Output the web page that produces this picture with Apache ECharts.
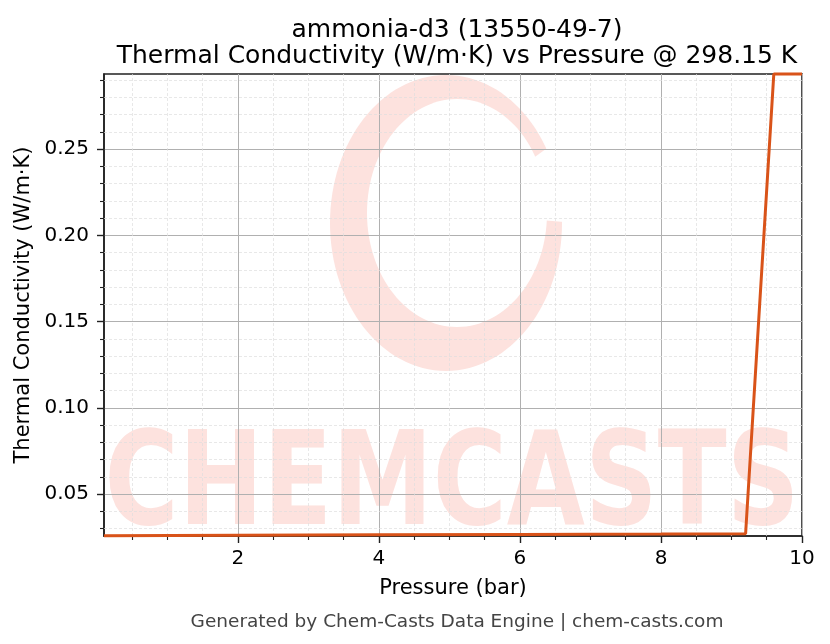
<!DOCTYPE html>
<html>
<head>
<meta charset="utf-8">
<script src="https://cdn.jsdelivr.net/npm/echarts@6/dist/echarts.min.js"></script>
<style>
  html, body { margin: 0; padding: 0; background: #fff; }
  #chart { width: 830px; height: 644px; }
</style>
</head>
<body>
<div id="chart"></div>
<script>
// thermal conductivity of ammonia-d3 vs pressure
const pressure = [0.1, 2, 4, 6, 8, 9.2, 9.6, 10];
const conductivity = [0.0258, 0.0261, 0.0264, 0.0266, 0.0268, 0.0270, 0.2935, 0.2935];

const xRange = [0.1, 10];
const yRange = [0.0257, 0.2935];
const xMajor = [2, 4, 6, 8, 10];
const yMajor = [0.05, 0.10, 0.15, 0.20, 0.25];
const xMinor = [0.5, 1, 1.5, 2.5, 3, 3.5, 4.5, 5, 5.5, 6.5, 7, 7.5, 8.5, 9, 9.5];
const yMinor = [0.03, 0.04, 0.06, 0.07, 0.08, 0.09, 0.11, 0.12, 0.13, 0.14,
                0.16, 0.17, 0.18, 0.19, 0.21, 0.22, 0.23, 0.24, 0.26, 0.27, 0.28, 0.29];

const FONT = 'DejaVu Sans';
const wmColor = '#fde2de';

var chart = echarts.init(document.getElementById('chart'), null, { renderer: 'canvas' });

var minorLines = [];
xMinor.forEach(function (v) { minorLines.push({ xAxis: v }); });
yMinor.forEach(function (v) { minorLines.push({ yAxis: v }); });

chart.setOption({
  backgroundColor: '#fff',
  animation: false,
  title: [{
    text: 'ammonia-d3 (13550-49-7)\nThermal Conductivity (W/m·K) vs Pressure @ 298.15 K',
    left: 452,
    top: 12,
    textAlign: 'center',
    textStyle: { fontFamily: FONT, fontSize: 25, fontWeight: 'normal', color: '#000', lineHeight: 26 }
  }, {
    text: 'Generated by Chem-Casts Data Engine | chem-casts.com',
    left: 452,
    top: 608,
    textAlign: 'center',
    textStyle: { fontFamily: FONT, fontSize: 18.5, fontWeight: 'normal', color: '#444' }
  }],
  graphic: [
    // watermark logo: ring
    { type: 'ellipse', z: -5, shape: { cx: 446, cy: 223, rx: 116, ry: 148 }, style: { fill: wmColor } },
    { type: 'ellipse', z: -4, shape: { cx: 457, cy: 213, rx: 90, ry: 114 }, style: { fill: '#fff' } },
    { type: 'polygon', z: -4, shape: { points: [[457, 213], [600, 110], [600, 225]] }, style: { fill: '#fff' } },
    // watermark text
    {
      type: 'text', z: -5, x: 452, y: 490, scaleY: 1.29,
      style: {
        text: 'CHEMCASTS', x: 0, y: 0, align: 'center', verticalAlign: 'middle',
        font: 'bold 101px "DejaVu Sans"', fill: wmColor
      }
    }
  ],
  grid: {
    left: 104, right: 28, top: 74, bottom: 108,
    show: true, borderColor: '#222', borderWidth: 1.6, backgroundColor: 'transparent'
  },
  xAxis: [{
    type: 'value',
    min: xRange[0], max: xRange[1],
    name: 'Pressure (bar)',
    nameLocation: 'middle',
    nameGap: 42,
    nameTextStyle: { fontFamily: FONT, fontSize: 21, color: '#000' },
    axisLine: { show: true, lineStyle: { color: '#222', width: 1.6 } },
    axisTick: { show: true, inside: false, length: 7, customValues: xMajor, lineStyle: { color: '#222', width: 1.4 } },
    axisLabel: { customValues: xMajor, margin: 13, fontFamily: FONT, fontSize: 20, color: '#000',
      formatter: function (v) { return String(v); } },
    splitLine: { show: true, lineStyle: { color: '#b0b0b0', width: 1 } }
  }, {
    type: 'value',
    min: xRange[0], max: xRange[1],
    position: 'bottom',
    axisLine: { show: false },
    axisTick: { show: true, inside: false, length: 4, customValues: xMinor, lineStyle: { color: '#222', width: 1.1 } },
    axisLabel: { show: false },
    splitLine: { show: false }
  }],
  yAxis: [{
    type: 'value',
    min: yRange[0], max: yRange[1],
    name: 'Thermal Conductivity (W/m·K)',
    nameLocation: 'middle',
    nameGap: 68,
    nameTextStyle: { fontFamily: FONT, fontSize: 21, color: '#000' },
    axisLine: { show: true, lineStyle: { color: '#222', width: 1.6 } },
    axisTick: { show: true, inside: false, length: 7, customValues: yMajor, lineStyle: { color: '#222', width: 1.4 } },
    axisLabel: { customValues: yMajor, margin: 15, fontFamily: FONT, fontSize: 20, color: '#000',
      formatter: function (v) { return v.toFixed(2); } },
    splitLine: { show: true, lineStyle: { color: '#b0b0b0', width: 1 } }
  }, {
    type: 'value',
    min: yRange[0], max: yRange[1],
    position: 'left',
    axisLine: { show: false },
    axisTick: { show: true, inside: false, length: 4, customValues: yMinor, lineStyle: { color: '#222', width: 1.1 } },
    axisLabel: { show: false },
    splitLine: { show: false }
  }],
  series: [{
    // minor grid
    type: 'line',
    z: 1,
    data: [],
    silent: true,
    markLine: {
      silent: true,
      symbol: 'none',
      label: { show: false },
      lineStyle: { color: '#dedede', width: 0.7, type: [3, 2] },
      data: minorLines
    }
  }, {
    name: 'Thermal Conductivity',
    type: 'line',
    z: 5,
    data: pressure.map(function (p, i) { return [p, conductivity[i]]; }),
    showSymbol: false,
    clip: false,
    lineStyle: { color: '#d95319', width: 3 },
    itemStyle: { color: '#d95319' }
  }]
});
</script>
</body>
</html>
